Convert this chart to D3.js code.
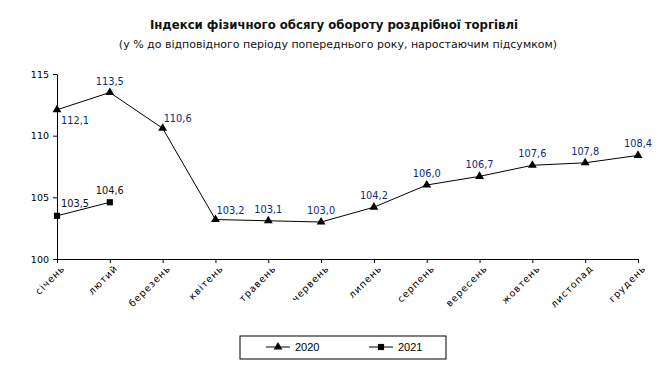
<!DOCTYPE html>
<meta charset="utf-8">
<style>
body { margin: 0; background: #fff; }
svg text { font-family: "DejaVu Sans", sans-serif; }
.title { font-family: "DejaVu Sans Condensed", "DejaVu Sans", sans-serif; font-weight: bold; font-size: 13px; fill: #111; }
.sub { font-size: 11px; fill: #111; }
.axis text { font-size: 9.5px; fill: #000; }
.axis path, .axis line { stroke: #000; }
.lbl { font-size: 9.8px; }
</style>
<svg width="668" height="375"></svg>
<script src="https://d3js.org/d3.v7.min.js"></script>
<script>

var months = ["січень", "лютий", "березень", "квітень", "травень", "червень",
              "липень", "серпень", "вересень", "жовтень", "листопад", "грудень"];
var values2020 = [112.1, 113.5, 110.6, 103.2, 103.1, 103.0, 104.2, 106.0, 106.7, 107.6, 107.8, 108.4];
var values2021 = [103.5, 104.6];
var yTicks = [100, 105, 110, 115];

var svg = d3.select("svg");

var x = d3.scalePoint().domain(months).range([57, 638]);
var y = d3.scaleLinear().domain([100, 115]).range([259, 74]);

svg.append("text").attr("class", "title")
    .attr("x", 334).attr("y", 29).attr("text-anchor", "middle")
    .text("Індекси фізичного обсягу обороту роздрібної торгівлі");
svg.append("text").attr("class", "sub")
    .attr("x", 338).attr("y", 48).attr("text-anchor", "middle")
    .text("(у % до відповідного періоду попереднього року, наростаючим підсумком)");

// y axis
svg.append("g").attr("class", "axis")
    .attr("transform", "translate(57,0)")
    .call(d3.axisLeft(y).tickValues(yTicks).tickSize(4).tickPadding(4).tickSizeOuter(0));

// x axis
var gx = svg.append("g").attr("class", "axis")
    .attr("transform", "translate(0,259)")
    .call(d3.axisBottom(x).tickSize(4).tickSizeOuter(0));
gx.selectAll("text")
    .attr("text-anchor", "end")
    .attr("dy", null).attr("y", 0)
    .style("letter-spacing", "1px")
    .attr("transform", "translate(8,10) rotate(-45)");

var line = d3.line()
    .x(function(d, i) { return x(months[i]); })
    .y(function(d) { return y(d); });

var series = [
  { name: "2020", values: values2020, marker: d3.symbolTriangle, color: "#0d2a78" },
  { name: "2021", values: values2021, marker: d3.symbolSquare, color: "#111" }
];

series.forEach(function(s, si) {
  svg.append("path").datum(s.values)
      .attr("fill", "none").attr("stroke", "#000").attr("stroke-width", 1)
      .attr("d", line);

  svg.selectAll(".m" + si).data(s.values).enter().append("path")
      .attr("class", "m" + si)
      .attr("transform", function(d, i) { return "translate(" + x(months[i]) + "," + y(d) + ")"; })
      .attr("d", d3.symbol().type(s.marker).size(si == 0 ? 34 : 38))
      .attr("fill", "#000");

  svg.selectAll(".l" + si).data(s.values).enter().append("text")
      .attr("class", "lbl")
      .attr("fill", s.color)
      .attr("x", function(d, i) {
        var px = x(months[i]);
        if (i == 0) return px + 4;
        if (si == 0 && (i == 2 || i == 3)) return px + 1;
        return px;
      })
      .attr("y", function(d, i) {
        var py = y(d);
        if (si == 0 && i == 0) return py + 14;
        if (si == 1 && i == 0) return py - 9;
        if (si == 0 && (i == 2 || i == 3)) return py - 6;
        return py - 8;
      })
      .attr("text-anchor", function(d, i) {
        if (i == 0) return "start";
        if (si == 0 && (i == 2 || i == 3)) return "start";
        return "middle";
      })
      .text(function(d) { return d.toFixed(1).replace(".", ","); });
});

// legend
var lg = svg.append("g");
lg.append("rect").attr("x", 240).attr("y", 336).attr("width", 206).attr("height", 23)
    .attr("fill", "none").attr("stroke", "#000");
series.forEach(function(s, si) {
  var lx = 266 + si * 103;
  lg.append("line").attr("x1", lx).attr("x2", lx + 24).attr("y1", 347).attr("y2", 347)
      .attr("stroke", "#000");
  lg.append("path").attr("transform", "translate(" + (lx + 12) + ",347)")
      .attr("d", d3.symbol().type(s.marker).size(si == 0 ? 34 : 38)).attr("fill", "#000");
  lg.append("text").attr("x", lx + 29).attr("y", 351)
      .style("font-family", "Liberation Sans, Arial, sans-serif").style("font-size", "11px")
      .text(s.name);
});

</script>
